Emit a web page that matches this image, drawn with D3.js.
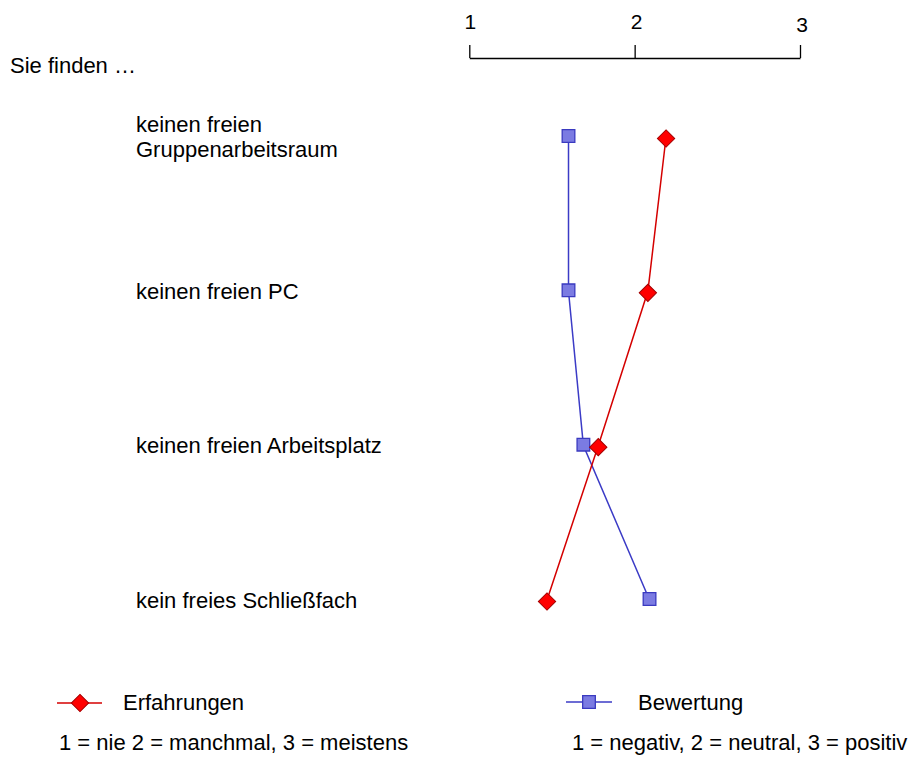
<!DOCTYPE html>
<html><head><meta charset="utf-8">
<script src="https://cdn.jsdelivr.net/npm/d3@7"></script>
<style>html,body{margin:0;padding:0;background:#fff;} text{font-family:"Liberation Sans",Arial,sans-serif;fill:#000;}</style>
</head><body>
<svg id="c" width="911" height="757"></svg>
<script>
const categories = [["keinen freien","Gruppenarbeitsraum"],["keinen freien PC"],["keinen freien Arbeitsplatz"],["kein freies Schließfach"]];
const erfahrungen = [2.19, 2.08, 1.78, 1.47];
const bewertung = [1.60, 1.60, 1.69, 2.09];
const tickValues = [1, 2, 3];
const tickLabels = ["1", "2", "3"];
const seriesNames = ["Erfahrungen", "Bewertung"];
const scaleNotes = ["1 = nie 2 = manchmal, 3 = meistens", "1 = negativ, 2 = neutral, 3 = positiv"];
const title = "Sie finden …";

const svg = d3.select("#c");
const x = d3.scaleLinear().domain([1, 3]).range([469.3, 800]);
const y = d3.scalePoint().domain(d3.range(categories.length)).range([137, 600]);

// axis
const axis = d3.axisTop(x).tickValues(tickValues).tickFormat("").tickSize(13).tickSizeOuter(0);
const ag = svg.append("g").attr("transform", "translate(0,58)").call(axis);
ag.select(".domain").attr("stroke", "#000").attr("stroke-width", 1.3);
ag.selectAll(".tick line").attr("stroke", "#000").attr("stroke-width", 1.3);
const labelDy = [0, 0, 3.5];
const labelDx = [1, 2, 2];
svg.selectAll("text.tl").data(tickValues).join("text").attr("class", "tl")
  .attr("x", (d, i) => x(d) + labelDx[i]).attr("y", (d, i) => 28.5 + labelDy[i])
  .attr("text-anchor", "middle").style("font-size", "21px").text((d, i) => tickLabels[i]);

svg.append("text").attr("x", 10).attr("y", 73).style("font-size", "22px").text(title);

// category labels
categories.forEach((lines, i) => {
  const t = svg.append("text").attr("x", 136).style("font-size", "22px");
  const n = lines.length;
  lines.forEach((l, j) => {
    t.append("tspan").attr("x", 136).attr("y", y(i) + 7.5 + (j - (n - 1) / 2) * 24.5).text(l);
  });
});

const line = d3.line().x(d => x(d.v)).y(d => y(d.i));
const red = erfahrungen.map((v, i) => ({v, i}));
const blue = bewertung.map((v, i) => ({v, i}));

svg.append("path").datum(blue).attr("d", line).attr("fill", "none").attr("stroke", "#3b3bc6").attr("stroke-width", 1.5);
svg.append("path").datum(red).attr("d", line).attr("fill", "none").attr("stroke", "#d40000").attr("stroke-width", 1.5);

const sq = d3.symbol().type(d3.symbolSquare).size(160);
const di = d3.symbol().type(d3.symbolSquare).size(150);

svg.selectAll("path.sq").data(blue).join("path").attr("class", "sq")
  .attr("d", sq).attr("transform", d => `translate(${x(d.v)},${y(d.i) - 1})`)
  .attr("fill", "#7b7be2").attr("stroke", "#3a3ac0").attr("stroke-width", 1.3);
svg.selectAll("path.di").data(red).join("path").attr("class", "di")
  .attr("d", di).attr("transform", d => `translate(${x(d.v)},${y(d.i) + 1.5}) rotate(45)`)
  .attr("fill", "#ff0000").attr("stroke", "#a30000").attr("stroke-width", 1);

// legend
const lg = [
  {x0: 57, x1: 102, cx: 80, cy: 703, tx: 123, color: "#d40000", sym: "di", note: 59},
  {x0: 566, x1: 612, cx: 589, cy: 702, tx: 638, color: "#3b3bc6", sym: "sq", note: 572}
];
lg.forEach((l, i) => {
  svg.append("line").attr("x1", l.x0).attr("x2", l.x1).attr("y1", l.cy).attr("y2", l.cy)
    .attr("stroke", l.color).attr("stroke-width", 1.3);
  if (l.sym === "di") {
    svg.append("path").attr("d", di).attr("transform", `translate(${l.cx},${l.cy}) rotate(45)`)
      .attr("fill", "#ff0000").attr("stroke", "#a30000").attr("stroke-width", 1);
  } else {
    svg.append("path").attr("d", sq).attr("transform", `translate(${l.cx},${l.cy})`)
      .attr("fill", "#7b7be2").attr("stroke", "#3a3ac0").attr("stroke-width", 1.3);
  }
  svg.append("text").attr("x", l.tx).attr("y", 710).style("font-size", "22px").text(seriesNames[i]);
  svg.append("text").attr("x", l.note).attr("y", 750).style("font-size", "22px").text(scaleNotes[i]);
});
</script>
</body></html>
